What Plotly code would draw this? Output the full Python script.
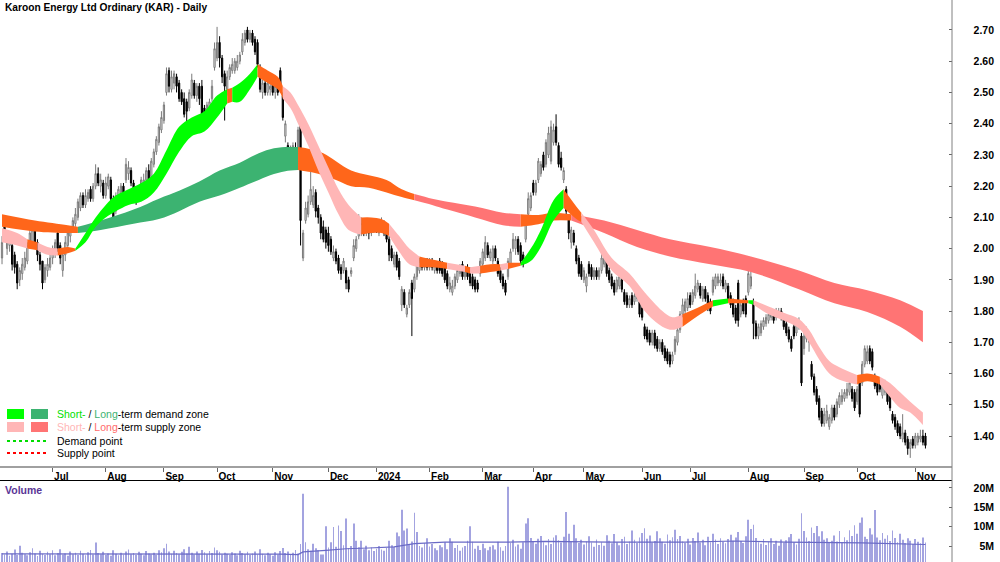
import pandas as pd
import plotly.graph_objects as go

TITLE = "Karoon Energy Ltd Ordinary (KAR) - Daily"
START = "2023-06-02"
HOLIDAYS = ["2023-06-12", "2023-12-25", "2023-12-26", "2024-01-01", "2024-01-26",
            "2024-03-29", "2024-04-01", "2024-04-25", "2024-06-10"]

opens = [
    1.97, 2.09, 2.00, 2.01, 2.01, 1.98, 1.95, 1.90, 1.92, 1.94,
    1.96, 2.01, 2.02, 2.06, 2.02, 1.98, 1.96, 1.90, 1.93, 1.94,
    1.97, 1.99, 2.05, 2.01, 1.93, 1.98, 2.01, 2.04, 2.06, 2.08,
    2.10, 2.13, 2.17, 2.14, 2.16, 2.19, 2.16, 2.20, 2.24, 2.20,
    2.21, 2.17, 2.20, 2.22, 2.16, 2.12, 2.16, 2.18, 2.20, 2.22,
    2.24, 2.25, 2.21, 2.19, 2.16, 2.19, 2.21, 2.22, 2.25, 2.23,
    2.27, 2.31, 2.34, 2.38, 2.41, 2.50, 2.57, 2.51, 2.53, 2.55,
    2.53, 2.50, 2.48, 2.47, 2.45, 2.49, 2.53, 2.49, 2.52, 2.52,
    2.45, 2.42, 2.44, 2.48, 2.58, 2.61, 2.66, 2.61, 2.56, 2.51,
    2.55, 2.57, 2.57, 2.58, 2.60, 2.63, 2.66, 2.70, 2.67, 2.69,
    2.67, 2.66, 2.58, 2.50, 2.53, 2.50, 2.51, 2.53, 2.50, 2.52,
    2.57, 2.49, 2.36, 2.33, 2.29, 2.30, 2.32, 2.32, 2.40, 1.97,
    2.09, 2.11, 2.15, 2.14, 2.18, 2.13, 2.10, 2.07, 2.06, 2.05,
    2.03, 1.97, 1.99, 1.97, 1.94, 1.93, 1.93, 1.90, 1.92, 1.97,
    2.00, 2.04, 2.05, 2.08, 2.05, 2.08, 2.05, 2.06, 2.08, 2.05,
    2.07, 2.08, 2.06, 2.03, 2.00, 1.95, 1.98, 1.96, 1.82, 1.86,
    1.79, 1.82, 1.89, 1.87, 1.91, 1.93, 1.96, 1.94, 1.96, 1.94,
    1.96, 1.93, 1.95, 1.96, 1.95, 1.94, 1.92, 1.87, 1.86, 1.88,
    1.90, 1.92, 1.95, 1.91, 1.94, 1.92, 1.91, 1.90, 1.89, 1.92,
    1.95, 1.97, 2.01, 1.97, 1.96, 2.00, 1.96, 1.93, 1.91, 1.89,
    1.91, 1.95, 2.00, 2.00, 2.03, 2.01, 1.98, 2.03, 2.11, 2.13,
    2.21, 2.18, 2.22, 2.24, 2.30, 2.27, 2.30, 2.28, 2.34, 2.39,
    2.33, 2.29, 2.22, 2.19, 2.10, 2.02, 2.05, 2.00, 1.97, 1.95,
    1.90, 1.88, 1.95, 1.94, 1.91, 1.93, 1.91, 1.93, 1.95, 1.96,
    1.93, 1.91, 1.89, 1.87, 1.88, 1.90, 1.86, 1.85, 1.82, 1.85,
    1.83, 1.84, 1.83, 1.81, 1.75, 1.74, 1.73, 1.70, 1.73, 1.71,
    1.68, 1.70, 1.68, 1.67, 1.66, 1.64, 1.67, 1.70, 1.74, 1.79,
    1.80, 1.81, 1.85, 1.83, 1.85, 1.87, 1.88, 1.84, 1.87, 1.85,
    1.83, 1.86, 1.88, 1.89, 1.89, 1.91, 1.87, 1.88, 1.85, 1.83,
    1.81, 1.89, 1.79, 1.83, 1.84, 1.86, 1.88, 1.83, 1.76, 1.72,
    1.73, 1.75, 1.76, 1.77, 1.78, 1.79, 1.78, 1.79, 1.80, 1.78,
    1.76, 1.74, 1.71, 1.75, 1.73, 1.75, 1.72, 1.68, 1.71, 1.70,
    1.63, 1.59, 1.55, 1.52, 1.48, 1.44, 1.45, 1.43, 1.45, 1.49,
    1.47, 1.50, 1.51, 1.52, 1.53, 1.54, 1.55, 1.54, 1.51, 1.57,
    1.57, 1.63, 1.64, 1.68, 1.67, 1.59, 1.58, 1.57, 1.53, 1.54,
    1.56, 1.54, 1.47, 1.46, 1.44, 1.43, 1.39, 1.41, 1.39, 1.36,
    1.39, 1.37, 1.38, 1.39, 1.40, 1.40,
]
highs = [
    2.04, 2.10, 2.05, 2.04, 2.02, 1.99, 1.96, 1.94, 1.97, 1.99,
    2.02, 2.07, 2.08, 2.07, 2.03, 1.99, 1.96, 1.95, 1.97, 1.98,
    2.01, 2.03, 2.06, 2.02, 1.99, 2.04, 2.06, 2.07, 2.10, 2.13,
    2.16, 2.18, 2.18, 2.19, 2.19, 2.20, 2.21, 2.27, 2.26, 2.24,
    2.22, 2.23, 2.24, 2.23, 2.17, 2.18, 2.20, 2.21, 2.21, 2.29,
    2.28, 2.26, 2.22, 2.20, 2.20, 2.23, 2.24, 2.26, 2.27, 2.29,
    2.32, 2.36, 2.40, 2.44, 2.47, 2.58, 2.58, 2.57, 2.57, 2.56,
    2.54, 2.51, 2.50, 2.48, 2.51, 2.56, 2.54, 2.53, 2.53, 2.54,
    2.46, 2.47, 2.48, 2.54, 2.66, 2.71, 2.68, 2.62, 2.57, 2.57,
    2.59, 2.61, 2.61, 2.62, 2.63, 2.69, 2.70, 2.71, 2.70, 2.70,
    2.68, 2.67, 2.59, 2.54, 2.55, 2.54, 2.53, 2.54, 2.53, 2.54,
    2.58, 2.50, 2.41, 2.34, 2.33, 2.34, 2.34, 2.39, 2.40, 2.06,
    2.15, 2.17, 2.25, 2.20, 2.19, 2.14, 2.11, 2.09, 2.07, 2.07,
    2.04, 2.01, 2.00, 1.98, 1.95, 1.97, 1.94, 1.91, 1.94, 2.03,
    2.04, 2.11, 2.10, 2.09, 2.08, 2.09, 2.09, 2.09, 2.09, 2.09,
    2.10, 2.09, 2.07, 2.04, 2.01, 1.99, 1.99, 1.97, 1.88, 1.87,
    1.82, 1.87, 1.90, 1.92, 1.97, 1.97, 1.97, 1.96, 1.97, 1.97,
    1.97, 1.96, 1.96, 1.97, 1.96, 1.95, 1.93, 1.91, 1.90, 1.92,
    1.94, 1.95, 1.96, 1.94, 1.95, 1.94, 1.92, 1.91, 1.90, 1.97,
    2.00, 2.04, 2.02, 2.00, 2.01, 2.01, 1.97, 1.94, 1.92, 1.90,
    1.97, 2.00, 2.05, 2.04, 2.04, 2.02, 1.99, 2.10, 2.18, 2.18,
    2.22, 2.22, 2.29, 2.28, 2.31, 2.35, 2.39, 2.41, 2.40, 2.43,
    2.34, 2.31, 2.26, 2.20, 2.11, 2.07, 2.06, 2.01, 1.98, 1.96,
    1.94, 1.92, 1.96, 1.95, 1.94, 1.94, 1.94, 1.99, 1.99, 1.97,
    1.94, 1.92, 1.90, 1.91, 1.92, 1.91, 1.87, 1.86, 1.85, 1.86,
    1.86, 1.87, 1.84, 1.82, 1.76, 1.75, 1.74, 1.74, 1.74, 1.72,
    1.71, 1.71, 1.69, 1.68, 1.67, 1.67, 1.72, 1.75, 1.80, 1.84,
    1.84, 1.86, 1.86, 1.87, 1.92, 1.90, 1.89, 1.88, 1.88, 1.86,
    1.84, 1.91, 1.92, 1.92, 1.92, 1.92, 1.90, 1.89, 1.86, 1.84,
    1.82, 1.90, 1.83, 1.84, 1.85, 1.955, 1.95, 1.84, 1.77, 1.76,
    1.77, 1.78, 1.79, 1.80, 1.81, 1.80, 1.81, 1.81, 1.81, 1.79,
    1.77, 1.75, 1.72, 1.76, 1.77, 1.78, 1.73, 1.73, 1.75, 1.73,
    1.64, 1.60, 1.56, 1.53, 1.49, 1.49, 1.50, 1.47, 1.50, 1.50,
    1.52, 1.54, 1.55, 1.55, 1.57, 1.59, 1.56, 1.55, 1.56, 1.58,
    1.64, 1.69, 1.69, 1.69, 1.68, 1.60, 1.59, 1.58, 1.57, 1.58,
    1.57, 1.56, 1.48, 1.47, 1.45, 1.44, 1.47, 1.42, 1.40, 1.39,
    1.40, 1.41, 1.41, 1.42, 1.42, 1.41,
]
lows = [
    1.95, 2.03, 1.98, 1.99, 1.93, 1.92, 1.87, 1.88, 1.90, 1.93,
    1.95, 2.00, 2.00, 2.00, 1.96, 1.93, 1.87, 1.89, 1.91, 1.93,
    1.95, 1.97, 1.99, 1.95, 1.91, 1.96, 2.00, 2.02, 2.05, 2.07,
    2.09, 2.12, 2.13, 2.13, 2.15, 2.15, 2.15, 2.19, 2.20, 2.18,
    2.16, 2.16, 2.19, 2.15, 2.08, 2.11, 2.15, 2.17, 2.16, 2.21,
    2.22, 2.20, 2.17, 2.14, 2.15, 2.18, 2.19, 2.21, 2.20, 2.22,
    2.26, 2.30, 2.33, 2.37, 2.40, 2.49, 2.50, 2.50, 2.51, 2.50,
    2.47, 2.46, 2.42, 2.40, 2.44, 2.48, 2.48, 2.47, 2.46, 2.40,
    2.38, 2.40, 2.43, 2.47, 2.57, 2.60, 2.58, 2.53, 2.41, 2.49,
    2.54, 2.56, 2.56, 2.57, 2.59, 2.62, 2.65, 2.66, 2.66, 2.65,
    2.62, 2.58, 2.50, 2.48, 2.49, 2.49, 2.49, 2.49, 2.48, 2.49,
    2.50, 2.41, 2.34, 2.27, 2.28, 2.29, 2.28, 2.31, 2.01, 1.96,
    2.08, 2.10, 2.14, 2.13, 2.10, 2.08, 2.03, 2.02, 2.00, 1.99,
    1.98, 1.96, 1.95, 1.92, 1.90, 1.92, 1.87, 1.86, 1.91, 1.96,
    1.99, 2.03, 2.04, 2.04, 2.04, 2.03, 2.04, 2.05, 2.05, 2.04,
    2.06, 2.04, 2.02, 1.96, 1.96, 1.94, 1.93, 1.90, 1.80, 1.81,
    1.78, 1.81, 1.72, 1.86, 1.90, 1.92, 1.93, 1.93, 1.93, 1.93,
    1.93, 1.92, 1.92, 1.92, 1.91, 1.89, 1.87, 1.86, 1.85, 1.87,
    1.89, 1.91, 1.90, 1.90, 1.90, 1.88, 1.87, 1.86, 1.86, 1.91,
    1.94, 1.96, 1.97, 1.96, 1.95, 1.96, 1.91, 1.89, 1.87, 1.85,
    1.90, 1.94, 1.99, 1.98, 1.98, 1.95, 1.94, 2.02, 2.10, 2.12,
    2.17, 2.17, 2.21, 2.23, 2.25, 2.26, 2.29, 2.27, 2.33, 2.33,
    2.26, 2.25, 2.21, 2.11, 2.03, 2.00, 2.01, 1.95, 1.91, 1.90,
    1.89, 1.86, 1.91, 1.90, 1.90, 1.90, 1.90, 1.92, 1.94, 1.91,
    1.89, 1.87, 1.85, 1.86, 1.87, 1.86, 1.82, 1.81, 1.81, 1.81,
    1.82, 1.83, 1.78, 1.77, 1.71, 1.70, 1.69, 1.69, 1.68, 1.67,
    1.67, 1.66, 1.64, 1.63, 1.62, 1.63, 1.66, 1.69, 1.73, 1.78,
    1.79, 1.80, 1.81, 1.82, 1.84, 1.86, 1.84, 1.83, 1.83, 1.80,
    1.79, 1.85, 1.87, 1.88, 1.88, 1.87, 1.86, 1.83, 1.81, 1.78,
    1.76, 1.75, 1.78, 1.79, 1.78, 1.85, 1.87, 1.71, 1.71, 1.71,
    1.72, 1.74, 1.75, 1.76, 1.77, 1.76, 1.77, 1.78, 1.77, 1.74,
    1.72, 1.70, 1.67, 1.71, 1.72, 1.74, 1.56, 1.66, 1.70, 1.67,
    1.58, 1.53, 1.50, 1.45, 1.43, 1.43, 1.44, 1.42, 1.44, 1.45,
    1.46, 1.49, 1.50, 1.51, 1.52, 1.53, 1.51, 1.48, 1.50, 1.46,
    1.56, 1.62, 1.63, 1.63, 1.61, 1.55, 1.53, 1.54, 1.52, 1.53,
    1.50, 1.48, 1.44, 1.42, 1.40, 1.39, 1.38, 1.37, 1.34, 1.33,
    1.36, 1.36, 1.37, 1.38, 1.37, 1.36,
]
closes = [
    2.02, 2.04, 2.03, 2.03, 1.95, 1.94, 1.89, 1.93, 1.95, 1.97,
    2.01, 2.05, 2.06, 2.02, 1.98, 1.95, 1.89, 1.94, 1.95, 1.97,
    2.00, 2.02, 2.00, 1.97, 1.98, 2.02, 2.05, 2.06, 2.09, 2.11,
    2.15, 2.17, 2.14, 2.17, 2.18, 2.16, 2.20, 2.24, 2.21, 2.22,
    2.17, 2.21, 2.23, 2.16, 2.09, 2.17, 2.19, 2.20, 2.17, 2.27,
    2.26, 2.21, 2.18, 2.15, 2.19, 2.22, 2.22, 2.25, 2.22, 2.28,
    2.31, 2.35, 2.39, 2.42, 2.46, 2.56, 2.52, 2.55, 2.56, 2.52,
    2.48, 2.47, 2.43, 2.44, 2.50, 2.54, 2.49, 2.52, 2.48, 2.42,
    2.40, 2.46, 2.47, 2.52, 2.64, 2.66, 2.61, 2.55, 2.52, 2.55,
    2.58, 2.59, 2.60, 2.60, 2.62, 2.67, 2.69, 2.67, 2.69, 2.66,
    2.63, 2.59, 2.51, 2.53, 2.50, 2.53, 2.52, 2.50, 2.52, 2.50,
    2.51, 2.42, 2.40, 2.29, 2.32, 2.33, 2.29, 2.38, 2.09, 2.05,
    2.13, 2.15, 2.19, 2.17, 2.12, 2.10, 2.05, 2.03, 2.02, 2.01,
    1.99, 1.99, 1.96, 1.93, 1.92, 1.96, 1.89, 1.87, 1.93, 2.01,
    2.03, 2.09, 2.08, 2.05, 2.07, 2.05, 2.08, 2.08, 2.06, 2.08,
    2.09, 2.05, 2.03, 1.98, 1.97, 1.98, 1.94, 1.91, 1.87, 1.82,
    1.81, 1.86, 1.84, 1.91, 1.96, 1.96, 1.94, 1.95, 1.94, 1.96,
    1.94, 1.95, 1.93, 1.93, 1.92, 1.90, 1.88, 1.89, 1.88, 1.91,
    1.93, 1.94, 1.91, 1.93, 1.91, 1.89, 1.88, 1.87, 1.87, 1.96,
    1.99, 2.02, 1.98, 1.99, 2.00, 1.97, 1.92, 1.90, 1.88, 1.86,
    1.96, 1.99, 2.03, 2.03, 1.99, 1.96, 1.95, 2.09, 2.16, 2.17,
    2.18, 2.21, 2.28, 2.27, 2.26, 2.34, 2.37, 2.39, 2.38, 2.34,
    2.27, 2.26, 2.25, 2.12, 2.05, 2.06, 2.02, 1.96, 1.92, 1.91,
    1.93, 1.91, 1.92, 1.91, 1.93, 1.91, 1.93, 1.97, 1.98, 1.92,
    1.90, 1.88, 1.86, 1.90, 1.91, 1.87, 1.83, 1.82, 1.84, 1.82,
    1.85, 1.86, 1.79, 1.78, 1.72, 1.71, 1.70, 1.73, 1.69, 1.68,
    1.70, 1.67, 1.65, 1.64, 1.63, 1.66, 1.71, 1.74, 1.79, 1.82,
    1.83, 1.84, 1.82, 1.86, 1.88, 1.89, 1.85, 1.87, 1.84, 1.81,
    1.80, 1.90, 1.91, 1.91, 1.90, 1.88, 1.89, 1.84, 1.82, 1.79,
    1.77, 1.77, 1.82, 1.80, 1.79, 1.92, 1.91, 1.76, 1.72, 1.75,
    1.76, 1.77, 1.78, 1.79, 1.80, 1.77, 1.80, 1.80, 1.78, 1.75,
    1.73, 1.71, 1.68, 1.72, 1.76, 1.77, 1.57, 1.72, 1.74, 1.72,
    1.59, 1.54, 1.51, 1.46, 1.44, 1.47, 1.48, 1.46, 1.49, 1.46,
    1.51, 1.53, 1.53, 1.54, 1.55, 1.57, 1.52, 1.49, 1.55, 1.47,
    1.63, 1.68, 1.67, 1.64, 1.62, 1.56, 1.54, 1.55, 1.56, 1.57,
    1.51, 1.49, 1.45, 1.43, 1.41, 1.40, 1.41, 1.38, 1.36, 1.38,
    1.37, 1.40, 1.40, 1.40, 1.38, 1.37,
]
volume_m = [
    3.2, 2.8, 3.6, 2.5, 3.0, 4.1, 2.7, 5.1, 3.3, 2.9,
    2.6, 3.4, 4.4, 3.1, 2.4, 3.8, 3.0, 2.7, 3.5, 2.9,
    3.9, 2.6, 3.2, 4.2, 2.8, 3.1, 2.5, 3.6, 2.9, 3.3,
    2.7, 3.8, 3.0, 2.6, 3.4, 4.0, 2.8, 5.9, 3.2, 2.9,
    3.5, 2.7, 3.1, 2.5, 3.9, 3.0, 2.6, 3.3, 2.8, 3.6,
    4.1, 2.9, 3.2, 2.7, 3.5, 3.0, 2.6, 3.7, 3.1, 2.8,
    3.3, 2.7, 3.9, 3.4, 4.4, 5.6, 3.6, 3.0, 3.8, 3.2,
    2.9, 3.5, 4.2, 3.1, 4.8, 3.3, 2.8, 3.6, 3.0, 4.0,
    3.4, 2.9, 3.7, 3.2, 4.6, 3.9, 3.5, 2.8, 3.3, 3.0,
    2.7, 3.4, 3.1, 2.6, 3.8, 3.2, 2.9, 3.5, 2.7, 3.1,
    3.6, 2.8, 4.2, 3.0, 2.6, 3.3, 2.9, 2.5, 3.4, 2.8,
    3.7, 4.5, 3.2, 3.6, 2.9, 3.3, 4.0, 3.1, 5.5, 18.5,
    6.0, 4.2, 3.8, 5.6, 4.4, 3.9, 2.8, 2.8, 10.1, 4.6,
    6.0, 9.9, 4.8, 10.3, 8.9, 5.2, 12.1, 4.5, 5.0, 10.8,
    6.4, 4.7, 6.4, 4.2, 5.1, 3.9, 4.6, 3.7, 4.3, 5.0,
    4.1, 3.8, 4.5, 6.4, 5.2, 4.8, 8.5, 7.5, 14.4, 9.0,
    9.5, 5.4, 6.2, 13.6, 8.6, 5.0, 4.6, 5.8, 7.0, 4.9,
    5.5, 4.4, 3.9, 5.2, 4.7, 6.0, 4.2, 7.0, 6.1, 4.5,
    5.3, 3.8, 4.6, 5.0, 6.4, 10.1, 6.1, 4.3, 5.1, 4.0,
    5.6, 4.4, 3.9, 4.8, 5.2, 4.1, 6.1, 4.7, 3.8, 5.0,
    20.3, 5.8, 6.6, 4.9, 5.4, 4.3, 6.0, 10.8, 12.2, 7.1,
    6.3, 5.6, 6.9, 7.6, 6.0, 5.2, 6.8, 5.5, 7.2, 7.8,
    6.5, 5.9, 7.4, 13.8, 8.2, 6.1, 10.5, 7.0, 5.8, 6.6,
    5.4, 6.2, 7.5, 5.9, 4.8, 6.7, 5.3, 6.0, 5.1, 7.8,
    6.4, 5.7, 8.1, 6.0, 5.2, 6.8, 7.4, 5.5, 6.2, 9.0,
    6.6, 5.8, 7.2, 8.4, 9.6, 6.9, 7.7, 5.9, 6.3, 8.8,
    7.0, 6.1, 5.6, 8.0, 6.5, 7.3, 9.2, 6.8, 7.6, 6.2,
    5.8, 6.9, 5.4, 7.1, 6.3, 8.5, 5.9, 6.6, 5.2, 7.4,
    6.0, 8.2, 6.7, 5.5, 7.0, 6.1, 5.7, 6.8, 7.9, 6.4,
    7.2, 8.6, 6.3, 5.8, 7.5, 11.8, 9.4, 10.5, 7.1, 6.0,
    5.6, 6.8, 5.3, 6.2, 7.0, 5.5, 6.4, 5.1, 6.7, 5.9,
    6.5, 7.3, 8.1, 6.0, 5.4, 6.9, 13.5, 8.9, 7.2, 6.3,
    9.8, 8.4, 10.2, 7.5, 8.8, 6.6, 7.0, 5.8, 6.4, 7.7,
    6.2, 8.9, 5.9, 7.3, 6.5, 9.1, 7.6, 10.4, 8.2, 11.0,
    12.4, 7.4, 6.8, 9.6, 8.0, 14.3, 7.2, 6.5, 8.4, 6.9,
    7.8, 6.3, 9.0, 7.1, 6.0, 8.2, 6.6, 5.8, 7.0, 6.4,
    5.5, 6.8, 6.1, 5.7, 7.2, 5.9,
]
vol_ma_idx = [0, 40, 80, 110, 117, 119, 128, 136, 145, 155, 163, 175, 200, 215, 240, 270, 290, 310, 340, 365]
vol_ma_m = [3.0, 3.0, 3.0, 2.9, 2.8, 3.5, 3.9, 4.3, 4.5, 4.8, 5.6, 6.0, 6.0, 6.2, 6.0, 6.0, 6.3, 6.0, 5.8, 5.4]

# short-term ribbon (trading-day index, upper, lower, zone state of following stretch)
st_idx = [0, 6, 10, 14, 18, 22, 26, 29, 33, 37, 41, 45, 50, 55, 60, 65, 70, 75, 80, 85,
          89, 91, 94, 98, 101, 105, 109, 111, 114, 117, 121, 125, 129, 133, 137, 142, 146, 150, 153, 157,
          161, 165, 170, 176, 183, 185, 189, 193, 197, 200, 205, 209, 213, 218, 222, 227, 229, 234, 241, 248,
          254, 261, 265, 269, 276, 281, 287, 295, 297, 303, 309, 315, 319, 323, 327, 331, 338, 342, 347, 351,
          355, 359, 364]
st_top = [2.065, 2.050, 2.030, 2.020, 2.005, 2.000, 2.005, 2.000, 2.050, 2.100, 2.140, 2.170, 2.190, 2.210, 2.240, 2.315, 2.390, 2.420, 2.440, 2.490,
          2.510, 2.515, 2.530, 2.560, 2.590, 2.570, 2.550, 2.520, 2.500, 2.460, 2.400, 2.330, 2.260, 2.190, 2.140, 2.100, 2.100, 2.095, 2.080, 2.040,
          2.000, 1.975, 1.965, 1.955, 1.945, 1.940, 1.945, 1.950, 1.950, 1.955, 1.955, 2.000, 2.060, 2.155, 2.190, 2.135, 2.115, 2.060, 1.970, 1.920,
          1.860, 1.800, 1.780, 1.790, 1.815, 1.835, 1.840, 1.835, 1.835, 1.815, 1.795, 1.775, 1.740, 1.685, 1.640, 1.620, 1.595, 1.600, 1.590, 1.570,
          1.540, 1.510, 1.475]
st_bot = [2.020, 2.010, 2.000, 1.995, 1.980, 1.978, 1.985, 1.993, 2.020, 2.070, 2.100, 2.120, 2.140, 2.150, 2.180, 2.240, 2.310, 2.360, 2.375, 2.420,
          2.465, 2.470, 2.470, 2.510, 2.550, 2.530, 2.510, 2.480, 2.450, 2.400, 2.330, 2.250, 2.180, 2.110, 2.060, 2.045, 2.050, 2.050, 2.040, 1.990,
          1.950, 1.940, 1.940, 1.935, 1.925, 1.920, 1.920, 1.925, 1.930, 1.935, 1.945, 1.960, 2.005, 2.090, 2.130, 2.095, 2.085, 2.020, 1.930, 1.880,
          1.800, 1.750, 1.740, 1.750, 1.790, 1.815, 1.825, 1.825, 1.820, 1.790, 1.770, 1.745, 1.700, 1.645, 1.600, 1.580, 1.565, 1.575, 1.565, 1.525,
          1.490, 1.475, 1.435]
st_state = ["sup", "sup", "mid", "sup", "sup", "mid", "mid",
            "dem", "dem", "dem", "dem", "dem", "dem", "dem", "dem", "dem", "dem", "dem", "dem", "dem",
            "mid", "dem", "dem", "dem", "mid", "mid", "mid",
            "sup", "sup", "sup", "sup", "sup", "sup", "sup", "sup",
            "mid", "mid", "mid", "sup", "sup", "sup", "mid", "mid", "sup", "mid", "sup", "mid", "mid", "sup", "mid",
            "dem", "dem", "dem", "dem", "mid", "mid",
            "sup", "sup", "sup", "sup", "sup", "sup", "sup",
            "mid", "mid", "dem", "mid", "dem",
            "sup", "sup", "sup", "sup", "sup", "sup", "sup", "sup",
            "mid", "mid", "sup", "sup", "sup", "sup"]

# long-term ribbon
lt_idx = [0, 13, 26, 30, 39, 52, 62, 70, 78, 86, 94, 100, 106, 112, 117, 122, 127, 132, 138, 145,
          152, 158, 163, 170, 176, 187, 198, 205, 212, 218, 225, 238, 251, 264, 280, 296, 315, 329, 342, 355, 364]
lt_top = [2.110, 2.090, 2.075, 2.070, 2.090, 2.125, 2.160, 2.185, 2.215, 2.250, 2.275, 2.300, 2.318, 2.325, 2.325, 2.318, 2.305, 2.280, 2.250, 2.235,
          2.220, 2.190, 2.175, 2.160, 2.150, 2.135, 2.115, 2.110, 2.108, 2.115, 2.110, 2.090, 2.060, 2.030, 2.005, 1.975, 1.930, 1.890, 1.867, 1.835, 1.800]
lt_bot = [2.070, 2.055, 2.050, 2.050, 2.060, 2.080, 2.095, 2.120, 2.150, 2.170, 2.195, 2.215, 2.235, 2.248, 2.252, 2.245, 2.235, 2.220, 2.200, 2.195,
          2.180, 2.165, 2.155, 2.140, 2.125, 2.100, 2.075, 2.070, 2.078, 2.090, 2.090, 2.050, 2.005, 1.975, 1.950, 1.925, 1.870, 1.825, 1.797, 1.750, 1.700]
lt_state = ["mid", "mid", "mid",
            "dem", "dem", "dem", "dem", "dem", "dem", "dem", "dem", "dem", "dem", "dem",
            "mid", "mid", "mid", "mid", "mid", "mid", "mid", "mid",
            "sup", "sup", "sup", "sup", "sup",
            "mid", "mid", "mid",
            "sup", "sup", "sup", "sup", "sup", "sup", "sup", "sup", "sup", "sup"]

month_labels = ["Jul", "Aug", "Sep", "Oct", "Nov", "Dec", "2024", "Feb", "Mar", "Apr", "May",
                "Jun", "Jul", "Aug", "Sep", "Oct", "Nov"]
price_ticks = [1.40, 1.50, 1.60, 1.70, 1.80, 1.90, 2.00, 2.10, 2.20, 2.30, 2.40, 2.50, 2.60, 2.70]
vol_ticks = [5, 10, 15, 20]
vol_tick_labels = ["5M", "10M", "15M", "20M"]

ST_COL = {"dem": "#00ff00", "sup": "#ffb6b6", "mid": "#ff661a"}
LT_COL = {"dem": "#3cb371", "sup": "#ff7474", "mid": "#ff661a"}
FONT = "Liberation Sans, Arial, sans-serif"

assert len(opens) == len(highs) == len(lows) == len(closes) == len(volume_m)
assert len(st_idx) == len(st_top) == len(st_bot) == len(st_state) + 1
assert len(lt_idx) == len(lt_top) == len(lt_bot) == len(lt_state) + 1

n = len(closes)
bd = pd.bdate_range(START, periods=n + 40)
bd = bd[~bd.isin(pd.to_datetime(HOLIDAYS))][:n]
xi = list(range(n))
per = bd.to_period("M")
tickvals = [i for i in range(1, n) if per[i] != per[i - 1]]
assert len(tickvals) == len(month_labels)

W, H = 1000, 562
X_RIGHT = 952 / W
PRICE_DOM = [1 - 466 / H, 1.0]
VOL_DOM = [0.0, (H - 481) / H]
X_RANGE = [-0.8, 375.5]
P_RANGE = [1.304, 2.796]
V_RANGE = [0.88, 21.8]

fig = go.Figure()


def add_ribbon(idx, top, bot, state, cols):
    k = 0
    m = len(state)
    while k < m:
        j = k
        while j + 1 < m and state[j + 1] == state[k]:
            j += 1
        xs = idx[k:j + 2]
        col = cols[state[k]]
        fig.add_trace(go.Scatter(x=xs, y=bot[k:j + 2], mode="lines",
                                 line=dict(width=0, shape="spline", color=col),
                                 hoverinfo="skip", showlegend=False, xaxis="x", yaxis="y"))
        fig.add_trace(go.Scatter(x=xs, y=top[k:j + 2], mode="lines", fill="tonexty",
                                 fillcolor=col, line=dict(width=0, shape="spline", color=col),
                                 hoverinfo="skip", showlegend=False, xaxis="x", yaxis="y"))
        k = j + 1


add_ribbon(lt_idx, lt_top, lt_bot, lt_state, LT_COL)
add_ribbon(st_idx, st_top, st_bot, st_state, ST_COL)

fig.add_trace(go.Candlestick(
    x=xi, open=opens, high=highs, low=lows, close=closes,
    increasing=dict(line=dict(color="#7a7a7a", width=1), fillcolor="#ffffff"),
    decreasing=dict(line=dict(color="#000000", width=1), fillcolor="#000000"),
    whiskerwidth=0, hoverinfo="skip", showlegend=False, xaxis="x", yaxis="y"))

fig.add_trace(go.Bar(x=xi, y=volume_m, width=0.3, marker=dict(color="#a3a3e0", line=dict(width=0)),
                     hoverinfo="skip", showlegend=False, xaxis="x2", yaxis="y2"))
fig.add_trace(go.Scatter(x=vol_ma_idx, y=vol_ma_m, mode="lines", line=dict(color="#6a6ac6", width=1.2),
                         hoverinfo="skip", showlegend=False, xaxis="x2", yaxis="y2"))

# invisible carriers for the label-only axes
fig.add_trace(go.Scatter(x=[xi[0]], y=[price_ticks[0]], mode="markers", marker=dict(opacity=0),
                         hoverinfo="skip", showlegend=False, xaxis="x", yaxis="y3"))
fig.add_trace(go.Scatter(x=[xi[0]], y=[vol_ticks[0]], mode="markers", marker=dict(opacity=0),
                         hoverinfo="skip", showlegend=False, xaxis="x2", yaxis="y4"))

bold = dict(family=FONT, size=10, color="#000000", weight=700)
ybold = dict(family=FONT, size=10.5, color="#000000", weight=700)

fig.update_layout(
    width=W, height=H, margin=dict(l=0, r=0, t=0, b=0),
    paper_bgcolor="#ffffff", plot_bgcolor="#ffffff", showlegend=False,
    xaxis=dict(domain=[0, X_RIGHT], range=X_RANGE, anchor="y", tickmode="array",
               tickvals=tickvals, ticktext=month_labels, ticks="outside", ticklen=4,
               tickcolor="#666666", ticklabelposition="outside right", tickfont=bold,
               showline=True, linecolor="#a0a0a0", linewidth=2, showgrid=False, zeroline=False,
               rangeslider=dict(visible=False)),
    xaxis2=dict(domain=[0, X_RIGHT], range=X_RANGE, anchor="y2", side="top", showline=True,
                linecolor="#000000", linewidth=1, showticklabels=False, ticks="",
                showgrid=False, zeroline=False),
    yaxis=dict(domain=PRICE_DOM, range=P_RANGE, anchor="x", side="right", tickmode="array",
               tickvals=price_ticks, ticks="inside", ticklen=3, tickcolor="#666666",
               showticklabels=False, showline=False, showgrid=False, zeroline=False),
    yaxis3=dict(overlaying="y", range=P_RANGE, anchor="free", position=0.997, side="right",
                tickmode="array", tickvals=price_ticks, tickformat=".2f", ticks="",
                ticklabelposition="inside", tickfont=ybold, showline=False, showgrid=False,
                zeroline=False),
    yaxis2=dict(domain=VOL_DOM, range=V_RANGE, anchor="x2", side="right", tickmode="array",
                tickvals=vol_ticks, ticks="inside", ticklen=3, tickcolor="#666666",
                showticklabels=False, showline=False, showgrid=False, zeroline=False),
    yaxis4=dict(overlaying="y2", range=V_RANGE, anchor="free", position=0.997, side="right",
                tickmode="array", tickvals=vol_ticks, ticktext=vol_tick_labels, ticks="",
                ticklabelposition="inside", tickfont=ybold, showline=False, showgrid=False,
                zeroline=False),
)


def px(x):
    return x / W


def py(y):
    return 1 - y / H


shapes = [
    dict(type="line", xref="paper", yref="paper", x0=X_RIGHT, x1=X_RIGHT, y0=0, y1=1,
         line=dict(color="#808080", width=1)),
    # legend swatches
    dict(type="rect", xref="paper", yref="paper", x0=px(7), x1=px(24), y0=py(419), y1=py(409),
         fillcolor=ST_COL["dem"], line=dict(width=0)),
    dict(type="rect", xref="paper", yref="paper", x0=px(31), x1=px(48), y0=py(419), y1=py(409),
         fillcolor=LT_COL["dem"], line=dict(width=0)),
    dict(type="rect", xref="paper", yref="paper", x0=px(7), x1=px(24), y0=py(432), y1=py(422),
         fillcolor=ST_COL["sup"], line=dict(width=0)),
    dict(type="rect", xref="paper", yref="paper", x0=px(31), x1=px(48), y0=py(432), y1=py(422),
         fillcolor=LT_COL["sup"], line=dict(width=0)),
    dict(type="line", xref="paper", yref="paper", x0=px(7), x1=px(47), y0=py(441), y1=py(441),
         line=dict(color="#00dd00", width=2, dash="dot")),
    dict(type="line", xref="paper", yref="paper", x0=px(7), x1=px(47), y0=py(453), y1=py(453),
         line=dict(color="#ff0000", width=2, dash="dot")),
]
fig.update_layout(shapes=shapes)

leg_font = dict(family=FONT, size=10.5, color="#000000")
annotations = [
    dict(text=TITLE, xref="paper", yref="paper", x=px(3), y=py(8), xanchor="left", yanchor="middle",
         showarrow=False, font=dict(family=FONT, size=10.2, color="#000000", weight=700)),
    dict(text="Volume", xref="paper", yref="paper", x=px(3), y=py(490), xanchor="left", yanchor="middle",
         showarrow=False, font=dict(family=FONT, size=10.5, color="#5a3596", weight=700)),
    dict(text='<span style="color:#00e000">Short-</span> / <span style="color:#3cb371">Long</span>-term demand zone',
         xref="paper", yref="paper", x=px(55), y=py(414), xanchor="left", yanchor="middle",
         showarrow=False, font=leg_font),
    dict(text='<span style="color:#ffb6b6">Short-</span> / <span style="color:#ff6b6b">Long</span>-term supply zone',
         xref="paper", yref="paper", x=px(55), y=py(427), xanchor="left", yanchor="middle",
         showarrow=False, font=leg_font),
    dict(text="Demand point", xref="paper", yref="paper", x=px(55), y=py(441), xanchor="left",
         yanchor="middle", showarrow=False, font=leg_font),
    dict(text="Supply point", xref="paper", yref="paper", x=px(55), y=py(453), xanchor="left",
         yanchor="middle", showarrow=False, font=leg_font),
]
fig.update_layout(annotations=annotations)

fig.write_html("out.html")
